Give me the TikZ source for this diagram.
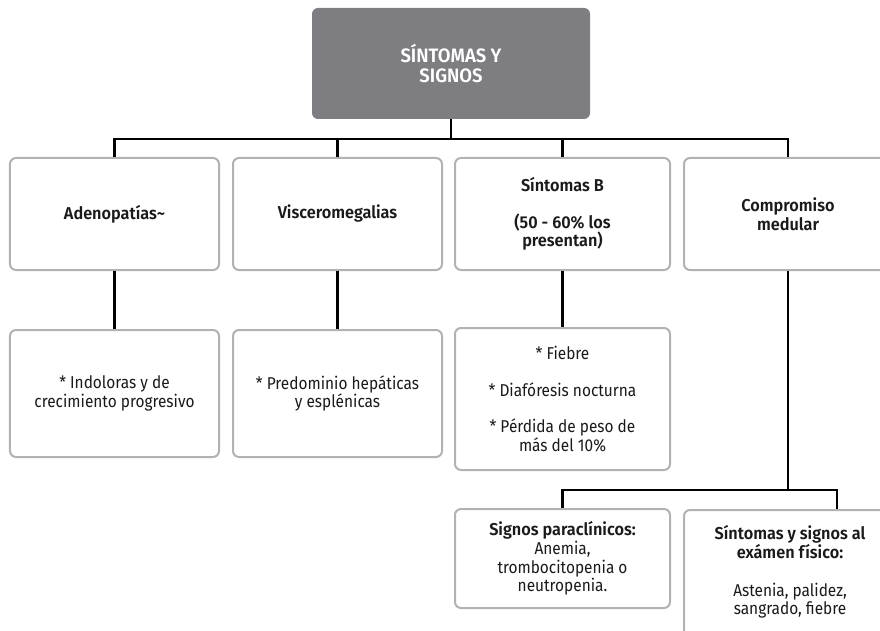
\documentclass[tikz,border=0pt]{standalone}
\usepackage{fontspec}
\setmainfont{Fira Sans}[BoldFont={Fira Sans SemiBold},FakeStretch=0.9,BoldFeatures={FakeStretch=0.95}]
\begin{document}
\begin{tikzpicture}[x=1bp,y=-1bp,
  box/.style={draw=boxline, line width=2bp, rounded corners=6bp, fill=white,
    align=center, inner sep=0pt, text=textcol,
    font=\fontsize{17.2}{18.8}\selectfont},
  topbox/.style={fill=topfill, rounded corners=6bp, align=center, inner sep=0pt,
    text=white, font=\fontsize{19.5}{21}\selectfont\bfseries},
  link/.style={draw=black, line width=2.4bp}]
\definecolor{boxline}{HTML}{B2B2B4}
\definecolor{topfill}{HTML}{7E7E82}
\definecolor{textcol}{HTML}{1A1A1A}
\useasboundingbox (0,0) rectangle (880,631);

% header
\node[topbox, minimum width=278bp, minimum height=111bp] (top) at (451,63.5) {SÍNTOMAS Y\\SIGNOS};

% first level
\node[box, minimum width=209bp, minimum height=112bp] (b1) at (114.5,214) {\bfseries Adenopatías\textasciitilde};
\node[box, minimum width=209bp, minimum height=112bp] (b2) at (337.5,214) {\bfseries Visceromegalias};
\node[box, minimum width=215bp, minimum height=112bp] (b3) at (562.5,214) {\bfseries Síntomas B\\[18bp]\bfseries (50 - 60\% los\\\bfseries presentan)};
\node[box, minimum width=208bp, minimum height=112bp] (b4) at (788,214) {\bfseries Compromiso\\\bfseries medular};

% second level
\node[box, minimum width=209bp, minimum height=127bp] (c1) at (114.5,393.5) {* Indoloras y de\\crecimiento progresivo};
\node[box, minimum width=209bp, minimum height=127bp] (c2) at (337.5,393.5) {* Predominio hepáticas\\y esplénicas};
\node[box, minimum width=215bp, minimum height=142bp] (c3) at (562.5,399) {* Fiebre\\[18bp]* Diafóresis nocturna\\[18bp]* Pérdida de peso de\\más del 10\%};

% third level
\node[box, minimum width=215bp, minimum height=99bp] (d1) at (562.5,558.5) {\bfseries Signos paraclínicos:\\Anemia,\\trombocitopenia o\\neutropenia.};
\node[box, minimum width=212bp, minimum height=141bp, anchor=north] (d2) at (790,509) {};
\node[align=center, inner sep=0pt, text=textcol, font=\fontsize{17.2}{18.8}\selectfont] (d2t) at (790,572) {\bfseries Síntomas y signos al\\\bfseries exámen físico:\\[19bp]Astenia, palidez,\\sangrado, fiebre};

% connectors
\coordinate (bus) at (451,139);
\coordinate (bus2) at (788,490);
\coordinate (d2drop) at (837,0);
\draw[link] (top.south) -- (bus);
\draw[link] (b1.north) -- (b1.north |- bus) -- (b4.north |- bus) -- (b4.north);
\draw[link] (b2.north) -- (b2.north |- bus);
\draw[link] (b3.north) -- (b3.north |- bus);
\draw[link] (b1.south) -- (c1.north);
\draw[link] (b2.south) -- (c2.north);
\draw[link] (b3.south) -- (c3.north);
\draw[link] (b4.south) -- (bus2);
\draw[link] (d1.north) -- (d1.north |- bus2) -- (d2drop |- bus2) -- (d2.north -| d2drop);
\end{tikzpicture}
\end{document}
